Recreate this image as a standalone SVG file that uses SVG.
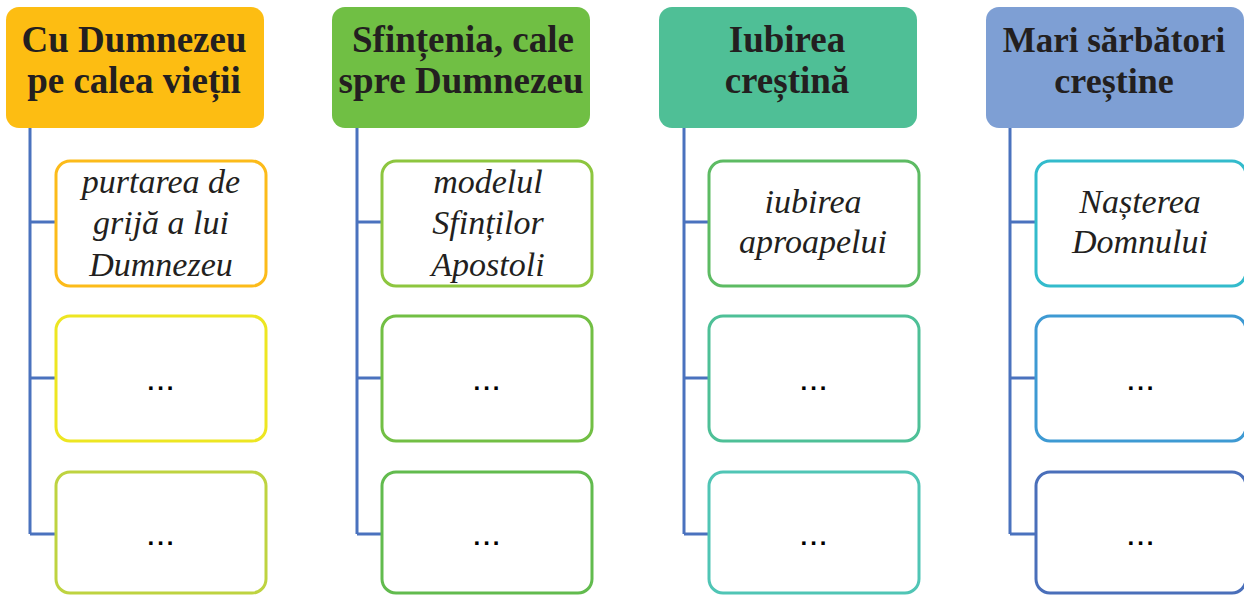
<svg xmlns="http://www.w3.org/2000/svg" width="1244" height="595" viewBox="0 0 1244 595">
<style>
.hd{font-family:"Liberation Serif","DejaVu Serif",serif;font-weight:bold;font-size:37px;fill:#231f20;text-anchor:middle}
.it{font-family:"Liberation Serif","DejaVu Serif",serif;font-style:italic;font-size:34px;fill:#231f20;text-anchor:middle}
.dots{font-family:"Liberation Sans",Arial,sans-serif;font-weight:bold;font-size:24px;fill:#000;text-anchor:middle;letter-spacing:3px}
.box{fill:#fff;stroke-width:3}
.con{fill:none;stroke:#4a72be;stroke-width:3}
</style>
<rect width="1244" height="595" fill="#fff"/>
<g id="connectors">
<path class="con" d="M30 128V534M30 222H56M30 378H56M30 534H56"/>
<path class="con" d="M357 128V534M357 222H382M357 378H382M357 534H382"/>
<path class="con" d="M684 128V534M684 222H709M684 378H709M684 534H709"/>
<path class="con" d="M1010 128V534M1010 222H1036M1010 378H1036M1010 534H1036"/>
</g>
<g id="h1"><rect x="6" y="7" width="258" height="121" rx="13" fill="#fdbd12"/><text class="hd" x="134" y="52">Cu Dumnezeu</text><text class="hd" x="134" y="93">pe calea vieții</text></g>
<g id="h2"><rect x="332" y="7" width="258" height="121" rx="13" fill="#70bf44"/><text class="hd" x="463" y="52">Sfințenia, cale</text><text class="hd" x="461" y="93">spre Dumnezeu</text></g>
<g id="h3"><rect x="659" y="7" width="258" height="121" rx="13" fill="#4fbf96"/><text class="hd" x="787" y="52">Iubirea</text><text class="hd" x="787" y="93">creștină</text></g>
<g id="h4"><rect x="986" y="7" width="258" height="121" rx="13" fill="#7e9fd4"/><text class="hd" x="1114" y="52" style="font-size:35px">Mari sărbători</text><text class="hd" x="1114" y="93" style="font-size:36px">creștine</text></g>

<g id="c1b1"><rect class="box" x="56" y="161" width="210" height="125" rx="14" stroke="#fcbb1a"/><text class="it" x="161" y="193">purtarea de</text><text class="it" x="161" y="234">grijă a lui</text><text class="it" x="161" y="276">Dumnezeu</text></g>
<g id="c1b2"><rect class="box" x="56" y="316" width="210" height="125" rx="14" stroke="#ede622"/><text class="dots" x="162" y="390">...</text></g>
<g id="c1b3"><rect class="box" x="56" y="472" width="210" height="121" rx="14" stroke="#bed340"/><text class="dots" x="162" y="545">...</text></g>

<g id="c2b1"><rect class="box" x="382" y="161" width="210" height="125" rx="14" stroke="#8dc63f"/><text class="it" x="488" y="193">modelul</text><text class="it" x="488" y="234">Sfinților</text><text class="it" x="488" y="276">Apostoli</text></g>
<g id="c2b2"><rect class="box" x="382" y="316" width="210" height="125" rx="14" stroke="#72bf44"/><text class="dots" x="488" y="390">...</text></g>
<g id="c2b3"><rect class="box" x="382" y="472" width="210" height="121" rx="14" stroke="#62bb4e"/><text class="dots" x="488" y="545">...</text></g>

<g id="c3b1"><rect class="box" x="709" y="161" width="210" height="125" rx="14" stroke="#5dbb63"/><text class="it" x="813" y="213">iubirea</text><text class="it" x="813" y="253">aproapelui</text></g>
<g id="c3b2"><rect class="box" x="709" y="316" width="210" height="125" rx="14" stroke="#4ec097"/><text class="dots" x="815" y="390">...</text></g>
<g id="c3b3"><rect class="box" x="709" y="472" width="210" height="121" rx="14" stroke="#50c5b5"/><text class="dots" x="815" y="545">...</text></g>

<g id="c4b1"><rect class="box" x="1036" y="161" width="210" height="125" rx="14" stroke="#33bbcc"/><text class="it" x="1140" y="213">Nașterea</text><text class="it" x="1140" y="253">Domnului</text></g>
<g id="c4b2"><rect class="box" x="1036" y="316" width="210" height="125" rx="14" stroke="#3e9ad3"/><text class="dots" x="1142" y="390">...</text></g>
<g id="c4b3"><rect class="box" x="1036" y="472" width="210" height="121" rx="14" stroke="#4a6fba"/><text class="dots" x="1142" y="545">...</text></g>
</svg>
